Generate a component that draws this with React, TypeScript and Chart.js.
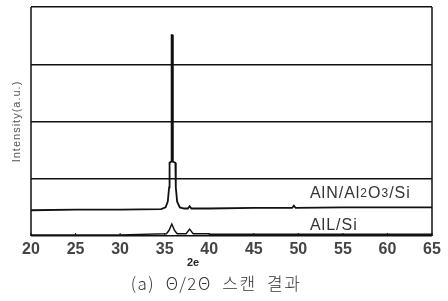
import React, { useEffect, useRef } from "react";
import { Chart, registerables } from "chart.js";

Chart.register(...registerables);

// 2θ positions and intensities (arbitrary units, 0..4 frame)
const alnX = [20, 25, 30, 34.6, 35.1, 35.35, 35.5, 35.55, 35.72, 35.78, 35.86, 35.92, 36.2, 36.25, 36.4, 36.7, 37.2, 37.6, 37.8, 38.0, 40, 45, 49.3, 49.5, 49.7, 55, 60, 65];
const alnY = [0.45, 0.46, 0.46, 0.47, 0.5, 0.6, 0.85, 1.28, 1.3, 3.51, 3.51, 1.3, 1.28, 0.85, 0.6, 0.5, 0.48, 0.48, 0.52, 0.48, 0.48, 0.49, 0.49, 0.53, 0.49, 0.5, 0.5, 0.5];
const allX = [20, 25, 30, 35.2, 35.5, 35.8, 36.1, 36.4, 37.4, 37.8, 38.2, 40, 40.1, 45, 50, 55, 60, 65];
const allY = [0.02, 0.02, 0.02, 0.04, 0.1, 0.21, 0.1, 0.04, 0.04, 0.12, 0.04, 0.04, 0.03, 0.03, 0.03, 0.03, 0.03, 0.03];

const xTicksMin = 20;
const xTicksMax = 65;
const xStep = 5;
const yMax = 4;

const seriesLabels = ["AlN/Al2O3/Si", "AlL/Si"];
const yTitle = "Intensity(a.u.)";
const xTitle = "2e";
const caption = "(a)  Θ/2Θ  스캔  결과";

export default function App() {
  const ref = useRef<HTMLCanvasElement | null>(null);

  useEffect(() => {
    document.body.style.margin = "0";
    const canvas = ref.current!;
    const annot = {
      id: "annot",
      afterDraw(chart: any) {
        const { ctx, chartArea, scales } = chart;
        const xs = scales.x;
        const ys = scales.y;
        ctx.save();
        // frame sides
        ctx.strokeStyle = "#111";
        ctx.lineWidth = 1.5;
        ctx.beginPath();
        ctx.moveTo(chartArea.left, chartArea.top);
        ctx.lineTo(chartArea.left, chartArea.bottom);
        ctx.moveTo(chartArea.right, chartArea.top);
        ctx.lineTo(chartArea.right, chartArea.bottom);
        ctx.stroke();
        // small tick marks
        ctx.lineWidth = 1;
        for (let v = xTicksMin; v <= xTicksMax; v += xStep) {
          const px = xs.getPixelForValue(v);
          ctx.beginPath();
          ctx.moveTo(px, chartArea.bottom);
          ctx.lineTo(px, chartArea.bottom - 3);
          ctx.stroke();
        }
        // series labels
        ctx.fillStyle = "#333";
        ctx.textBaseline = "alphabetic";
        ctx.textAlign = "left";
        (ctx as any).letterSpacing = "1px";
        let x = xs.getPixelForValue(51.3);
        let y = ys.getPixelForValue(0.67);
        const parts: [string, boolean][] = [["AlN/Al", false], ["2", true], ["O", false], ["3", true], ["/Si", false]];
        for (const [t, sub] of parts) {
          ctx.font = sub ? "12px 'Liberation Sans'" : "16px 'Liberation Sans'";
          ctx.fillText(t, x, sub ? y - 1 : y);
          x += ctx.measureText(t).width;
        }
        ctx.font = "16px 'Liberation Sans'";
        ctx.fillText(seriesLabels[1], xs.getPixelForValue(51.3), ys.getPixelForValue(0.1));
        (ctx as any).letterSpacing = "0px";
        // x title
        ctx.font = "bold 11px 'Liberation Sans'";
        ctx.textAlign = "center";
        ctx.textBaseline = "middle";
        ctx.fillStyle = "#222";
        ctx.fillText(xTitle, 193, 263);
        // caption
        ctx.font = "300 17px 'Noto Sans CJK KR'";
        (ctx as any).letterSpacing = "1.5px";
        ctx.fillStyle = "#333";
        ctx.fillText(caption, 216, 284);
        (ctx as any).letterSpacing = "0px";
        // y title
        ctx.save();
        ctx.translate(17, (chartArea.top + chartArea.bottom) / 2);
        ctx.rotate(-Math.PI / 2);
        ctx.font = "11px 'Liberation Sans'";
        (ctx as any).letterSpacing = "1px";
        ctx.fillStyle = "#555";
        ctx.fillText(yTitle, 0, 0);
        ctx.restore();
        ctx.restore();
      },
    };

    const chart = new Chart(canvas, {
      type: "line",
      data: {
        datasets: [
          {
            label: seriesLabels[0],
            data: alnX.map((v, i) => ({ x: v, y: alnY[i] })),
            borderColor: "#111",
            borderWidth: 1.8,
            pointRadius: 0,
            tension: 0,
          },
          {
            label: seriesLabels[1],
            data: allX.map((v, i) => ({ x: v, y: allY[i] })),
            borderColor: "#111",
            borderWidth: 1.4,
            pointRadius: 0,
            tension: 0,
          },
        ],
      },
      options: {
        animation: false,
        responsive: false,
        layout: { padding: { top: 7, right: 16, left: 0, bottom: 0 } },
        plugins: { legend: { display: false }, tooltip: { enabled: false } },
        scales: {
          x: {
            type: "linear",
            min: xTicksMin,
            max: xTicksMax,
            ticks: {
              stepSize: xStep,
              color: "#444",
              font: { family: "'Liberation Sans'", size: 16, weight: "bold" },
              padding: 4,
              maxRotation: 0,
            },
            grid: { display: false, drawTicks: false },
            border: { display: false },
            afterFit: (s: any) => {
              s.height = 65;
            },
          },
          y: {
            min: 0,
            max: yMax,
            ticks: { display: false, stepSize: 1 },
            grid: { color: "#111", lineWidth: 1.5, drawTicks: false },
            border: { display: false },
            afterFit: (s: any) => {
              s.width = 31;
            },
          },
        },
      },
      plugins: [annot],
    } as any);
    return () => chart.destroy();
  }, []);

  return <canvas ref={ref} width={448} height={301} style={{ display: "block" }} />;
}
